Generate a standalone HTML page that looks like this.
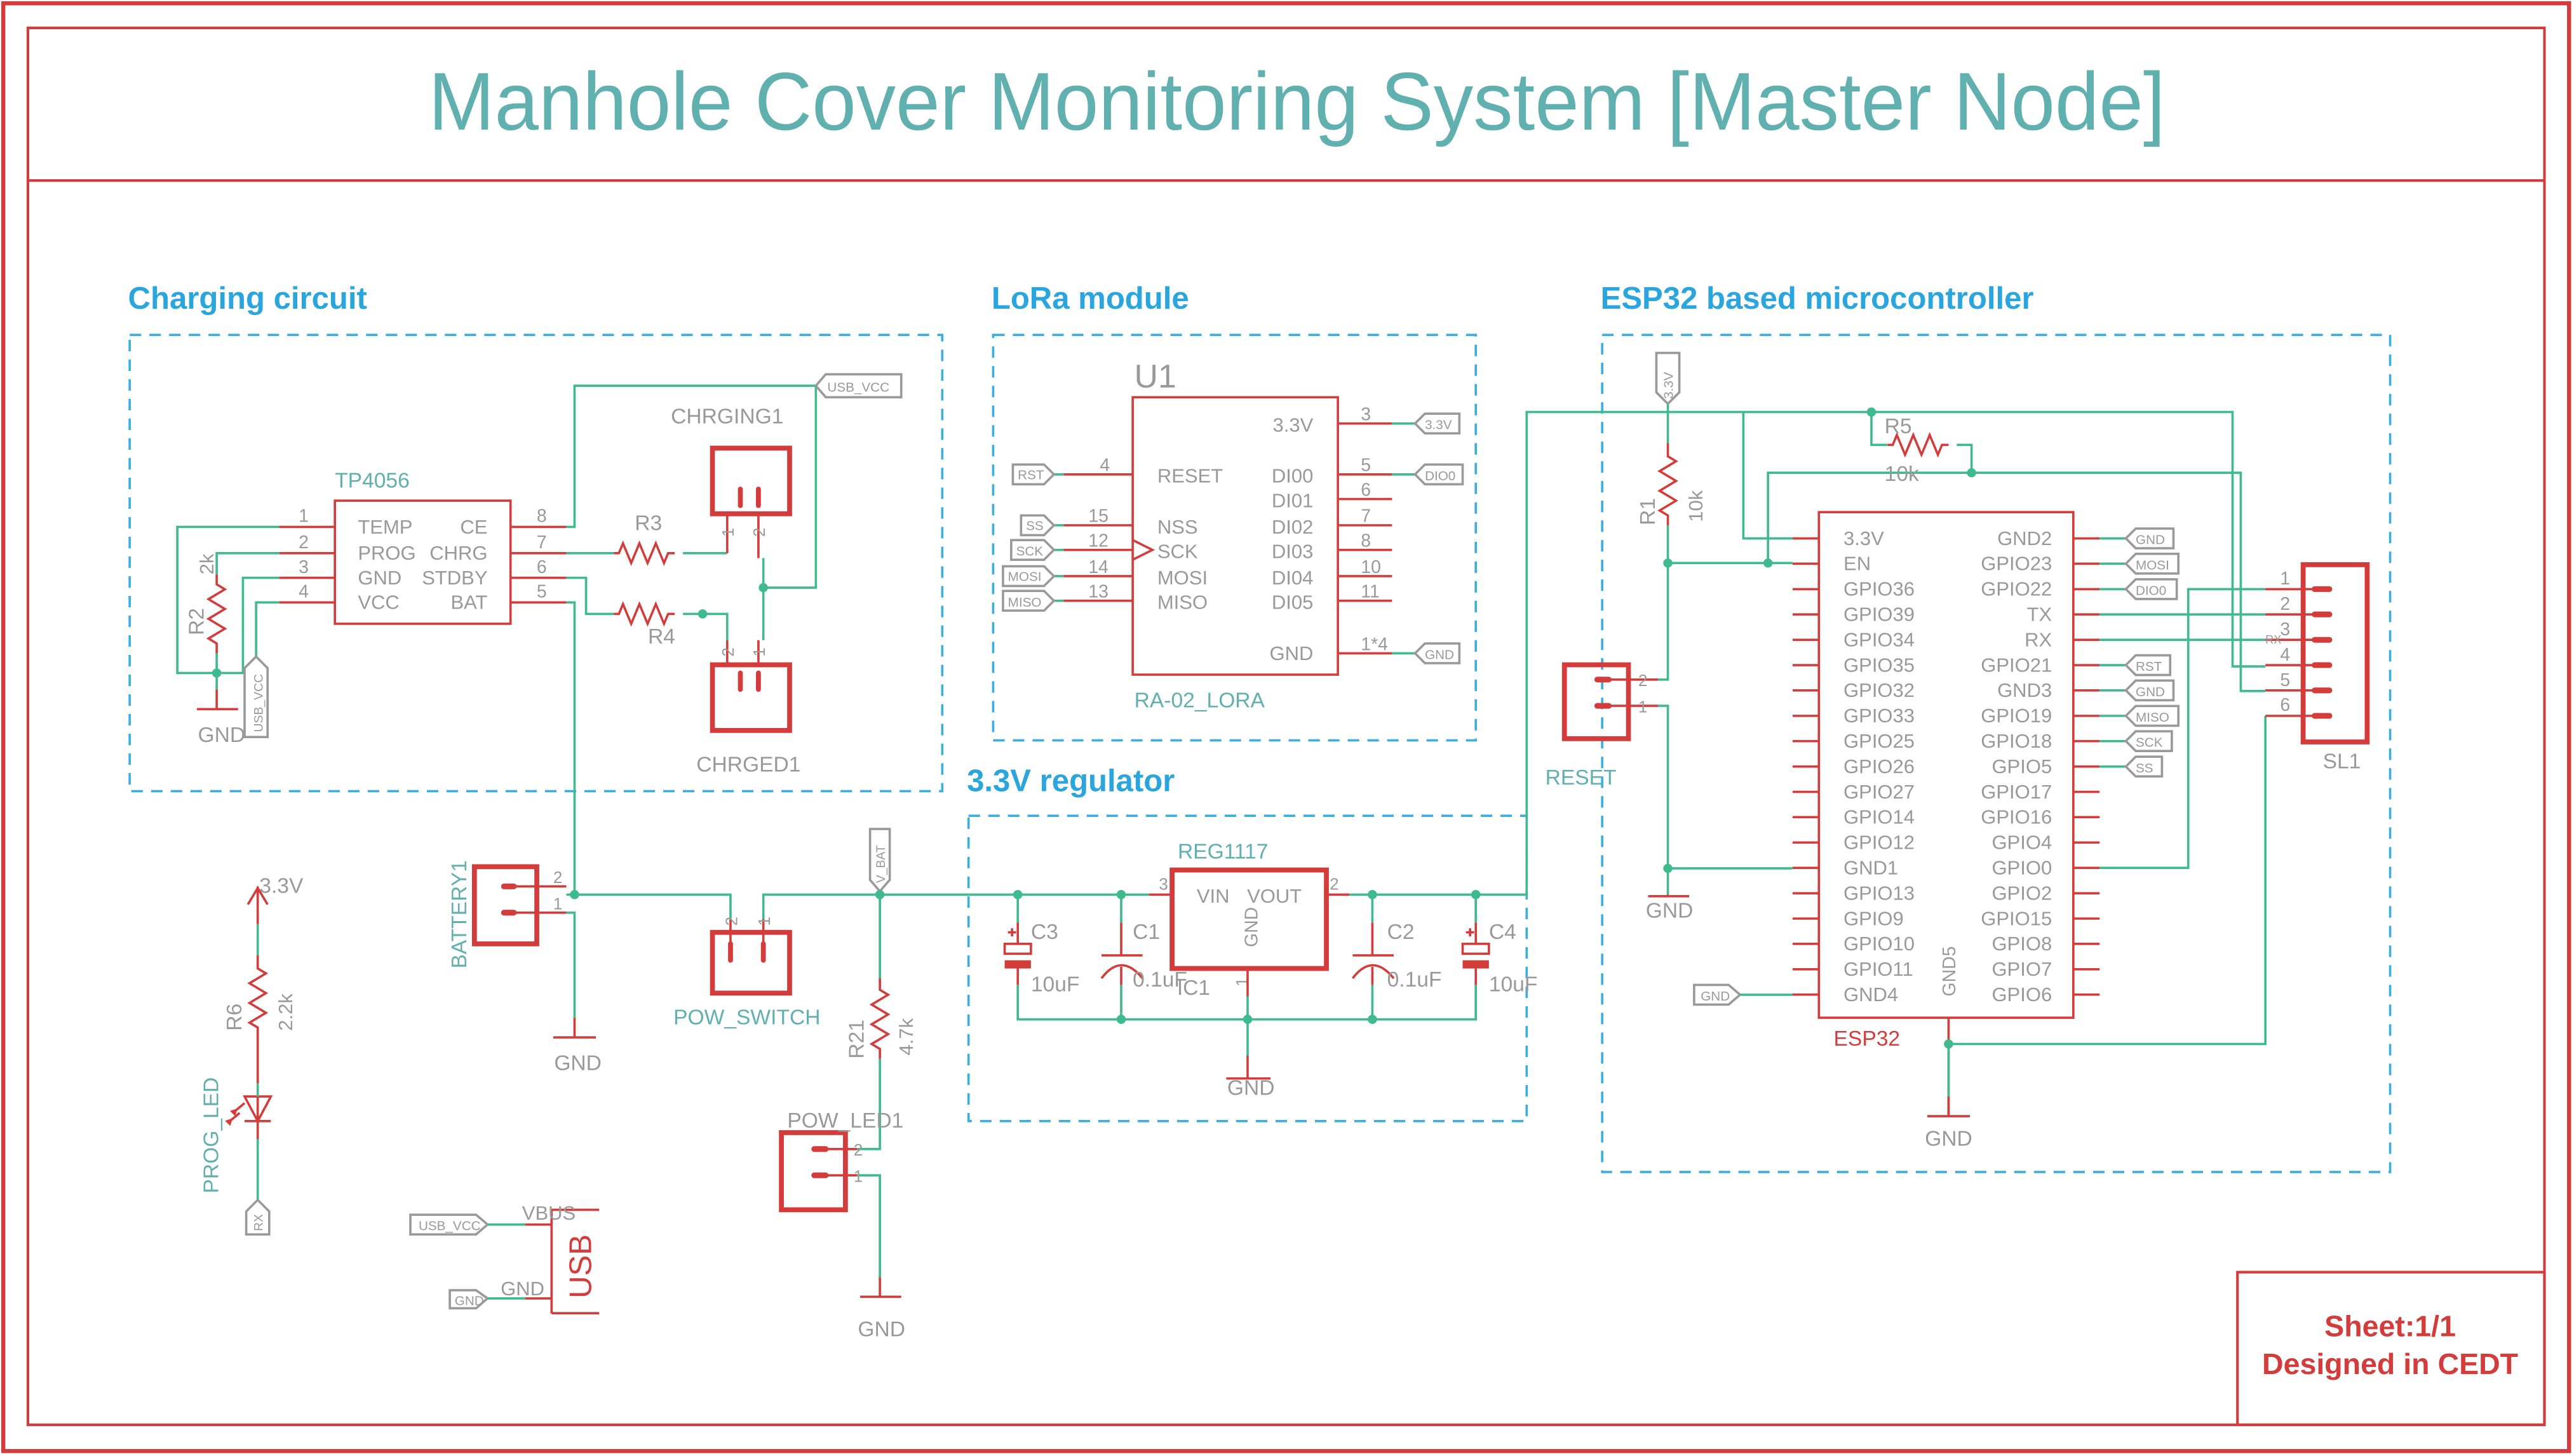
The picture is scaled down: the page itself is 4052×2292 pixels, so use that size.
<!DOCTYPE html>
<html><head><meta charset="utf-8"><style>
html,body{margin:0;padding:0;background:#fff}
svg{display:block}
text{font-family:"Liberation Sans",sans-serif}
</style></head><body>
<svg width="4052" height="2292" viewBox="0 0 1568 887" preserveAspectRatio="none" xmlns="http://www.w3.org/2000/svg">
<defs>
<style>
.r{stroke:#d43c3c;fill:none;stroke-width:1.4}
.rb{stroke:#d43c3c;fill:none;stroke-width:3}
.g{stroke:#3fba8c;fill:none;stroke-width:1.4}
.d{stroke:#3aaee0;fill:none;stroke-width:1.4;stroke-dasharray:7,5}
.t{stroke:#999;fill:#fff;stroke-width:1.4}
.gy{fill:#999}
.tl{fill:#5fb0ae}
.bl{fill:#2aa5dd;font-weight:bold;font-size:19px}
.j{fill:#3fba8c}
</style>
</defs>
<rect x="0" y="0" width="1568" height="887" fill="#fff"/>
<rect x="2" y="2" width="1563" height="882" fill="none" stroke="#d43c3c" stroke-width="2.5"/>
<rect x="17" y="17" width="1533" height="851" fill="none" stroke="#d43c3c" stroke-width="1.6"/>
<line x1="17" y1="110" x2="1550" y2="110" stroke="#d43c3c" stroke-width="1.6"/>
<text x="790" y="79" text-anchor="middle" font-size="50" fill="#5fb0ae" textLength="1058" lengthAdjust="spacingAndGlyphs">Manhole Cover Monitoring System [Master Node]</text>
<rect x="1363" y="775" width="187" height="93" fill="none" stroke="#d43c3c" stroke-width="1.6"/>
<text x="1456" y="814" text-anchor="middle" font-size="18" font-weight="bold" fill="#d43c3c">Sheet:1/1</text>
<text x="1456" y="837" text-anchor="middle" font-size="18" font-weight="bold" fill="#d43c3c">Designed in CEDT</text>

<!-- section titles & boxes -->
<text x="78" y="188" class="bl">Charging circuit</text>
<text x="604" y="188" class="bl">LoRa module</text>
<text x="975" y="188" class="bl">ESP32 based microcontroller</text>
<text x="589" y="482" class="bl">3.3V regulator</text>
<rect x="79" y="204" width="495" height="278" class="d"/>
<rect x="605" y="204" width="294" height="247" class="d"/>
<rect x="590" y="497" width="340" height="186" class="d"/>
<rect x="976" y="204" width="480" height="510" class="d"/>

<!-- ===== Charging circuit ===== -->
<rect x="204" y="305" width="107" height="75" class="r"/>
<text x="204" y="297" font-size="13" class="tl">TP4056</text>
<g class="gy" font-size="12">
<text x="218" y="325">TEMP</text><text x="218" y="341">PROG</text><text x="218" y="356">GND</text><text x="218" y="371">VCC</text>
<text x="297" y="325" text-anchor="end">CE</text><text x="297" y="341" text-anchor="end">CHRG</text><text x="297" y="356" text-anchor="end">STDBY</text><text x="297" y="371" text-anchor="end">BAT</text>
<text x="185" y="318" font-size="11" text-anchor="middle">1</text><text x="185" y="334" font-size="11" text-anchor="middle">2</text><text x="185" y="349" font-size="11" text-anchor="middle">3</text><text x="185" y="364" font-size="11" text-anchor="middle">4</text>
<text x="330" y="318" font-size="11" text-anchor="middle">8</text><text x="330" y="334" font-size="11" text-anchor="middle">7</text><text x="330" y="349" font-size="11" text-anchor="middle">6</text><text x="330" y="364" font-size="11" text-anchor="middle">5</text>
</g>
<path class="r" d="M170,321H204M170,337H204M170,352H204M170,367H204M311,321H345M311,337H345M311,352H345M311,367H345"/>
<!-- left wires -->
<path class="g" d="M170,321H108V410H148V352H170M170,337H132V350M132,398V420M170,367H156V400"/>
<path class="r" d="M132,350V356 l5,3 l-10,6 l10,6 l-10,6 l10,6 l-10,6 l5,3V398M132,420V432M120,432H145"/>
<circle cx="132" cy="410" r="2.8" class="j"/>
<text x="135" y="452" text-anchor="middle" font-size="13" class="gy">GND</text>
<text transform="translate(130,350) rotate(-90)" font-size="12" class="gy">2k</text>
<text transform="translate(124,387) rotate(-90)" font-size="13" class="gy">R2</text>
<polygon class="t" points="156,400 163,407 163,449 149,449 149,407"/>
<text transform="translate(160,446) rotate(-90)" font-size="7.5" class="gy">USB_VCC</text>
<!-- right wires -->
<path class="g" d="M345,321H350V235H497M345,337H374M416,337H443M465,358H497V235M345,352H357V374H374M416,374H443V390M465,358V340M465,358V390M345,367H350V545"/>
<polygon class="t" points="497,235 503,228 549,228 549,242 503,242"/>
<text x="504" y="238.5" font-size="8" class="gy">USB_VCC</text>
<path class="r" d="M374,337h3 l2.5,-6 l5,12 l5,-12 l5,12 l5,-12 l5,12 l2.5,-6h4"/>
<path class="r" d="M374,374h3 l2.5,-6 l5,12 l5,-12 l5,12 l5,-12 l5,12 l2.5,-6h4"/>
<circle cx="428" cy="374" r="2.8" class="j"/>
<circle cx="465" cy="358" r="2.8" class="j"/>
<text x="395" y="323" text-anchor="middle" font-size="13" class="gy">R3</text>
<text x="403" y="392" text-anchor="middle" font-size="13" class="gy">R4</text>
<!-- CHRGING1 -->
<rect x="434" y="273" width="47" height="40" class="rb"/>
<path class="r" d="M443,313V337M462,313V340" />
<path d="M451,298V308M462,298V308" stroke="#d43c3c" stroke-width="3" stroke-linecap="round"/>
<text transform="translate(447,327) rotate(-90)" font-size="10" class="gy">1</text>
<text transform="translate(466,327) rotate(-90)" font-size="10" class="gy">2</text>
<text x="443" y="258" text-anchor="middle" font-size="13" class="gy">CHRGING1</text>
<!-- CHRGED1 -->
<rect x="434" y="405" width="47" height="40" class="rb"/>
<path class="r" d="M443,390V405M462,390V405"/>
<path d="M451,410V420M462,410V420" stroke="#d43c3c" stroke-width="3" stroke-linecap="round"/>
<text transform="translate(447,400) rotate(-90)" font-size="10" class="gy">2</text>
<text transform="translate(466,400) rotate(-90)" font-size="10" class="gy">1</text>
<text x="456" y="470" text-anchor="middle" font-size="13" class="gy">CHRGED1</text>

<!-- ===== Battery / switch ===== -->
<rect x="289" y="528" width="38" height="47" class="rb"/>
<path d="M307,540H313M307,556H313" stroke="#d43c3c" stroke-width="3.5" stroke-linecap="round"/>
<path class="r" d="M313,540H345M313,556H345"/>
<text x="337" y="538" font-size="10" class="gy">2</text><text x="337" y="554" font-size="10" class="gy">1</text>
<text transform="translate(284,590) rotate(-90)" font-size="13" class="tl">BATTERY1</text>
<path class="g" d="M345,545H445V560M465,560V545H700M345,556H350V620"/>
<path class="r" d="M350,620V632M337,632H363"/>
<circle cx="350" cy="545" r="2.8" class="j"/>
<text x="352" y="652" text-anchor="middle" font-size="13" class="gy">GND</text>
<rect x="434" y="568" width="47" height="37" class="rb"/>
<path class="r" d="M445,560V582M465,560V582"/>
<path d="M445,575V585M465,575V585" stroke="#d43c3c" stroke-width="3" stroke-linecap="round"/>
<text transform="translate(449,564) rotate(-90)" font-size="10" class="gy">2</text>
<text transform="translate(469,564) rotate(-90)" font-size="10" class="gy">1</text>
<text x="455" y="624" text-anchor="middle" font-size="13" class="tl">POW_SWITCH</text>
<polygon class="t" points="536,543 530,536 530,505 542,505 542,536"/>
<text transform="translate(539,538) rotate(-90)" font-size="7.5" class="gy">V_BAT</text>
<circle cx="536" cy="545" r="2.8" class="j"/>
<path class="g" d="M536,545V596M536,645V700H516M516,716H536V778"/>
<path class="r" d="M536,596V603 l5,3 l-10,6 l10,6 l-10,6 l10,6 l-10,6 l5,3V645M536,778V790M524,790H549"/>
<text transform="translate(526,645) rotate(-90)" font-size="13" class="gy">R21</text>
<text transform="translate(556,643) rotate(-90)" font-size="12" class="gy">4.7k</text>
<rect x="476" y="690" width="39" height="47" class="rb"/>
<path d="M496,700H503M496,716H503" stroke="#d43c3c" stroke-width="3.5" stroke-linecap="round"/>
<path class="r" d="M503,700H522M503,716H522"/>
<text x="520" y="704" font-size="10" class="gy">2</text><text x="520" y="720" font-size="10" class="gy">1</text>
<text x="515" y="687" text-anchor="middle" font-size="13" class="gy">POW_LED1</text>
<text x="537" y="814" text-anchor="middle" font-size="13" class="gy">GND</text>

<!-- PROG LED -->
<path class="r" d="M157,540V563M151,551L157,541L163,551M157,582V590 l5,3 l-10,6 l10,6 l-10,6 l10,6 l-10,6 l5,3V660M157,668V694M149,668H165L157,683ZM149,683H165"/>
<path class="g" d="M157,563V582M157,660V668M157,694V731"/>
<path class="r" d="M149,672l-6,5M146,678l-6,5"/>
<path d="M141,677l3,-1 -1,3zM138,683l3,-1 -1,3z" fill="#d43c3c" stroke="#d43c3c"/>
<text x="158" y="544" font-size="13" class="gy">3.3V</text>
<text transform="translate(147,628) rotate(-90)" font-size="13" class="gy">R6</text>
<text transform="translate(178,628) rotate(-90)" font-size="12" class="gy">2.2k</text>
<text transform="translate(133,727) rotate(-90)" font-size="13" class="tl">PROG_LED</text>
<polygon class="t" points="157,731 164,738 164,752 150,752 150,738"/>
<text transform="translate(160,750) rotate(-90)" font-size="7.5" class="gy">RX</text>

<!-- USB -->
<polygon class="t" points="250,740 290,740 297,746 290,752 250,752"/>
<text x="255" y="749.5" font-size="8" class="gy">USB_VCC</text>
<polygon class="t" points="274,786 290,786 297,791 290,797 274,797"/>
<text x="277" y="795" font-size="8" class="gy">GND</text>
<path class="g" d="M297,746H320M297,791H320"/>
<path class="r" d="M320,746H336M320,791H336M336,737V800M336,737H365M336,800H365"/>
<text x="318" y="743" font-size="12" class="gy">VBUS</text>
<text x="305" y="789" font-size="12" class="gy">GND</text>
<text transform="translate(360,791) rotate(-90)" font-size="19" fill="#d43c3c">USB</text>

<!-- ===== Regulator ===== -->
<path class="g" d="M700,545H700M822,545H930V251H1360V406H1380"/>
<path class="r" d="M700,545H714M808,545H822"/>
<rect x="714" y="530" width="94" height="60" class="rb"/>
<text x="729" y="550" font-size="12" class="gy">VIN</text><text x="793" y="550" text-anchor="end" font-size="12" class="gy">VOUT</text>
<text transform="translate(766,577) rotate(-90)" font-size="11" class="gy">GND</text>
<text x="706" y="542" font-size="10" class="gy">3</text><text x="810" y="542" font-size="10" class="gy">2</text>
<text x="745" y="523" text-anchor="middle" font-size="13" class="tl">REG1117</text>
<text x="717" y="606" font-size="13" class="gy">IC1</text>
<text transform="translate(760,601) rotate(-90)" font-size="10" class="gy">1</text>
<path class="r" d="M760,590V607"/>
<path class="g" d="M760,607V643M620,545V562M620,600V621H899V600M899,545V562M683,545V562M683,600V621M836,545V562M836,600V621"/>
<path class="r" d="M760,643V657M747,657H774"/>
<text x="762" y="667" text-anchor="middle" font-size="13" class="gy">GND</text>
<!-- C3 / C4 polarized -->
<g class="r">
<path d="M620,562V575M620,590V600"/><rect x="612" y="575" width="16" height="6"/>
<path d="M899,562V575M899,590V600"/><rect x="891" y="575" width="16" height="6"/>
<path d="M614,568h5M616.5,565.5v5M893,568h5M895.5,565.5v5"/>
<path d="M683,562V582M671,582H696M683,589V600M671,596Q683,580 696,596"/>
<path d="M836,562V582M824,582H849M836,589V600M824,596Q836,580 849,596"/>
</g>
<rect x="612" y="585" width="16" height="5" fill="#d43c3c"/>
<rect x="891" y="585" width="16" height="5" fill="#d43c3c"/>
<g class="gy" font-size="13">
<text x="628" y="572">C3</text><text x="628" y="604">10uF</text>
<text x="690" y="572">C1</text><text x="690" y="601">0.1uF</text>
<text x="845" y="572">C2</text><text x="845" y="601">0.1uF</text>
<text x="907" y="572">C4</text><text x="907" y="604">10uF</text>
</g>
<circle cx="620" cy="545" r="2.8" class="j"/><circle cx="683" cy="545" r="2.8" class="j"/>
<circle cx="836" cy="545" r="2.8" class="j"/><circle cx="899" cy="545" r="2.8" class="j"/>
<circle cx="683" cy="621" r="2.8" class="j"/><circle cx="760" cy="621" r="2.8" class="j"/><circle cx="836" cy="621" r="2.8" class="j"/>

<!-- ===== LoRa ===== -->
<rect x="690" y="242" width="125" height="169" class="r"/>
<text x="691" y="236" font-size="20" class="gy">U1</text>
<text x="691" y="431" font-size="13" class="tl">RA-02_LORA</text>
<path class="r" d="M648,289H690M648,320H690M648,335H690M648,351H690M648,366H690M815,258H848M815,289H848M815,304H848M815,320H848M815,335H848M815,351H848M815,366H848M815,398H848M690,329L702,335L690,341"/>
<path class="g" d="M642,289H648M642,320H648M642,335H648M642,351H648M642,366H648M848,258H862M848,289H862M848,398H862"/>
<g class="gy" font-size="12">
<text x="705" y="294">RESET</text><text x="705" y="325">NSS</text><text x="705" y="340">SCK</text><text x="705" y="356">MOSI</text><text x="705" y="371">MISO</text>
<text x="800" y="263" text-anchor="end">3.3V</text><text x="800" y="294" text-anchor="end">DI00</text><text x="800" y="309" text-anchor="end">DI01</text><text x="800" y="325" text-anchor="end">DI02</text><text x="800" y="340" text-anchor="end">DI03</text><text x="800" y="356" text-anchor="end">DI04</text><text x="800" y="371" text-anchor="end">DI05</text><text x="800" y="402" text-anchor="end">GND</text>
</g>
<g class="gy" font-size="11">
<text x="670" y="287">4</text><text x="663" y="318">15</text><text x="663" y="333">12</text><text x="663" y="349">14</text><text x="663" y="364">13</text>
<text x="829" y="256">3</text><text x="829" y="287">5</text><text x="829" y="302">6</text><text x="829" y="318">7</text><text x="829" y="333">8</text><text x="829" y="349">10</text><text x="829" y="364">11</text><text x="829" y="396">1*4</text>
</g>
<polygon class="t" points="617,283 636,283 642,289 636,295 617,295"/><text x="620" y="292" font-size="8" class="gy">RST</text>
<polygon class="t" points="622,314 636,314 642,320 636,326 622,326"/><text x="625" y="323" font-size="8" class="gy">SS</text>
<polygon class="t" points="616,329 636,329 642,335 636,341 616,341"/><text x="619" y="338.5" font-size="8" class="gy">SCK</text>
<polygon class="t" points="611,345 636,345 642,351 636,357 611,357"/><text x="614" y="354" font-size="8" class="gy">MOSI</text>
<polygon class="t" points="611,360 636,360 642,366 636,372 611,372"/><text x="614" y="369.5" font-size="8" class="gy">MISO</text>
<polygon class="t" points="862,258 868,252 889,252 889,264 868,264"/><text x="868" y="261.5" font-size="8" class="gy">3.3V</text>
<polygon class="t" points="862,289 868,283 891,283 891,295 868,295"/><text x="868" y="292.5" font-size="8" class="gy">DIO0</text>
<polygon class="t" points="862,398 868,392 889,392 889,404 868,404"/><text x="868" y="401.5" font-size="8" class="gy">GND</text>

<!-- ===== ESP32 ===== -->
<rect x="1108" y="312" width="155" height="308" class="r"/>
<path class="r" d="M1092,328.0H1108M1092,343.4H1108M1092,358.9H1108M1092,374.3H1108M1092,389.8H1108M1092,405.2H1108M1092,420.6H1108M1092,436.1H1108M1092,451.5H1108M1092,467.0H1108M1092,482.4H1108M1092,497.8H1108M1092,513.3H1108M1092,528.7H1108M1092,544.2H1108M1092,559.6H1108M1092,575.0H1108M1092,590.5H1108M1092,605.9H1108
M1263,328.0H1279M1263,343.4H1279M1263,358.9H1279M1263,374.3H1279M1263,389.8H1279M1263,405.2H1279M1263,420.6H1279M1263,436.1H1279M1263,451.5H1279M1263,467.0H1279M1263,482.4H1279M1263,497.8H1279M1263,513.3H1279M1263,528.7H1279M1263,544.2H1279M1263,559.6H1279M1263,575.0H1279M1263,590.5H1279M1263,605.9H1279M1187,620V636"/>
<g class="gy" font-size="12">
<text x="1123" y="332">3.3V</text><text x="1123" y="347.4">EN</text><text x="1123" y="362.9">GPIO36</text><text x="1123" y="378.3">GPIO39</text><text x="1123" y="393.8">GPIO34</text><text x="1123" y="409.2">GPIO35</text><text x="1123" y="424.6">GPIO32</text><text x="1123" y="440.1">GPIO33</text><text x="1123" y="455.5">GPIO25</text><text x="1123" y="471">GPIO26</text><text x="1123" y="486.4">GPIO27</text><text x="1123" y="501.8">GPIO14</text><text x="1123" y="517.3">GPIO12</text><text x="1123" y="532.7">GND1</text><text x="1123" y="548.2">GPIO13</text><text x="1123" y="563.6">GPIO9</text><text x="1123" y="579">GPIO10</text><text x="1123" y="594.5">GPIO11</text><text x="1123" y="609.9">GND4</text>
<g text-anchor="end"><text x="1250" y="332">GND2</text><text x="1250" y="347.4">GPIO23</text><text x="1250" y="362.9">GPIO22</text><text x="1250" y="378.3">TX</text><text x="1250" y="393.8">RX</text><text x="1250" y="409.2">GPIO21</text><text x="1250" y="424.6">GND3</text><text x="1250" y="440.1">GPIO19</text><text x="1250" y="455.5">GPIO18</text><text x="1250" y="471">GPIO5</text><text x="1250" y="486.4">GPIO17</text><text x="1250" y="501.8">GPIO16</text><text x="1250" y="517.3">GPIO4</text><text x="1250" y="532.7">GPIO0</text><text x="1250" y="548.2">GPIO2</text><text x="1250" y="563.6">GPIO15</text><text x="1250" y="579">GPIO8</text><text x="1250" y="594.5">GPIO7</text><text x="1250" y="609.9">GPIO6</text></g>
</g>
<text transform="translate(1191,607) rotate(-90)" font-size="11" class="gy">GND5</text>
<text x="1117" y="637" font-size="13" fill="#d43c3c">ESP32</text>
<!-- right tags -->
<path class="g" d="M1279,328H1295M1279,343.4H1295M1279,358.9H1295M1279,405.2H1295M1279,420.6H1295M1279,436.1H1295M1279,451.5H1295M1279,467H1295"/>
<g>
<polygon class="t" points="1295,328 1301,322 1324,322 1324,334 1301,334"/><text x="1301" y="331.5" font-size="8" class="gy">GND</text>
<polygon class="t" points="1295,343.4 1301,337.4 1327,337.4 1327,349.4 1301,349.4"/><text x="1301" y="347" font-size="8" class="gy">MOSI</text>
<polygon class="t" points="1295,358.9 1301,352.9 1326,352.9 1326,364.9 1301,364.9"/><text x="1301" y="362.4" font-size="8" class="gy">DIO0</text>
<polygon class="t" points="1295,405.2 1301,399.2 1322,399.2 1322,411.2 1301,411.2"/><text x="1301" y="408.7" font-size="8" class="gy">RST</text>
<polygon class="t" points="1295,420.6 1301,414.6 1324,414.6 1324,426.6 1301,426.6"/><text x="1301" y="424.1" font-size="8" class="gy">GND</text>
<polygon class="t" points="1295,436.1 1301,430.1 1327,430.1 1327,442.1 1301,442.1"/><text x="1301" y="439.6" font-size="8" class="gy">MISO</text>
<polygon class="t" points="1295,451.5 1301,445.5 1323,445.5 1323,457.5 1301,457.5"/><text x="1301" y="455" font-size="8" class="gy">SCK</text>
<polygon class="t" points="1295,467 1301,461 1317,461 1317,473 1301,473"/><text x="1301" y="470.5" font-size="8" class="gy">SS</text>
</g>
<!-- GND4 tag -->
<polygon class="t" points="1032,600 1053,600 1060,606 1053,612 1032,612"/><text x="1036" y="609.5" font-size="8" class="gy">GND</text>
<path class="g" d="M1060,606H1092"/>
<!-- left side nets -->
<polygon class="t" points="1016,246 1009,239 1009,215 1023,215 1023,239"/>
<text transform="translate(1019,243) rotate(-90)" font-size="8" class="gy">3.3V</text>
<path class="g" d="M1016,246V270M1016,320V414H1010M1010,430H1016V545M1016,529H1092M1016,343H1092M1062,251V328H1092M1077,343V288H1365V421H1380M1140,251V271H1150M1192,271H1201V288M1279,374.3H1380M1279,389.8H1380M1279,528.7H1333V358.9H1380M1187,636H1380V436.1"/>
<path class="r" d="M1016,270V278 l5,3 l-10,6 l10,6 l-10,6 l10,6 l-10,6 l5,3V320M1016,545V546M1004,546H1029"/>
<path class="r" d="M1150,271h3 l2.5,-6 l5,12 l5,-12 l5,12 l5,-12 l5,12 l2.5,-6h4"/>
<circle cx="1016" cy="343" r="2.8" class="j"/><circle cx="1077" cy="343" r="2.8" class="j"/>
<circle cx="1140" cy="251" r="2.8" class="j"/><circle cx="1201" cy="288" r="2.8" class="j"/>
<circle cx="1016" cy="529" r="2.8" class="j"/><circle cx="1187" cy="636" r="2.8" class="j"/>
<text transform="translate(1008,320) rotate(-90)" font-size="13" class="gy">R1</text>
<text transform="translate(1037,318) rotate(-90)" font-size="12" class="gy">10k</text>
<text x="1148" y="264" font-size="13" class="gy">R5</text>
<text x="1148" y="293" font-size="13" class="gy">10k</text>
<text x="1017" y="559" text-anchor="middle" font-size="13" class="gy">GND</text>
<path class="r" d="M1187,636V680M1174,680H1200"/>
<path class="g" d="M1187,636V668"/>
<path class="r" d="M1187,668V680"/>
<text x="1187" y="698" text-anchor="middle" font-size="13" class="gy">GND</text>
<!-- RESET -->
<rect x="953" y="405" width="39" height="45" class="rb"/>
<path d="M973,414H980M973,430H980" stroke="#d43c3c" stroke-width="3.5" stroke-linecap="round"/>
<path class="r" d="M980,414H1010M980,430H1010"/>
<text x="998" y="418" font-size="10" class="gy">2</text><text x="998" y="434" font-size="10" class="gy">1</text>
<text x="963" y="478" text-anchor="middle" font-size="13" class="tl">RESET</text>
<!-- SL1 -->
<rect x="1403" y="344" width="39" height="108" class="rb"/>
<path class="r" d="M1380,358.9H1410M1380,374.3H1410M1380,389.8H1410M1380,405.2H1410M1380,420.6H1410M1380,436.1H1410"/>
<path d="M1410,358.9H1419M1410,374.3H1419M1410,389.8H1419M1410,405.2H1419M1410,420.6H1419M1410,436.1H1419" stroke="#d43c3c" stroke-width="3.5" stroke-linecap="round"/>
<g class="gy" font-size="11"><text x="1389" y="356">1</text><text x="1389" y="371.5">2</text><text x="1389" y="387">3</text><text x="1389" y="402.5">4</text><text x="1389" y="418">5</text><text x="1389" y="433">6</text></g>
<text x="1380" y="392" font-size="7" class="gy">RX</text>
<text x="1415" y="468" font-size="13" class="gy">SL1</text>
</svg>
</body></html>
